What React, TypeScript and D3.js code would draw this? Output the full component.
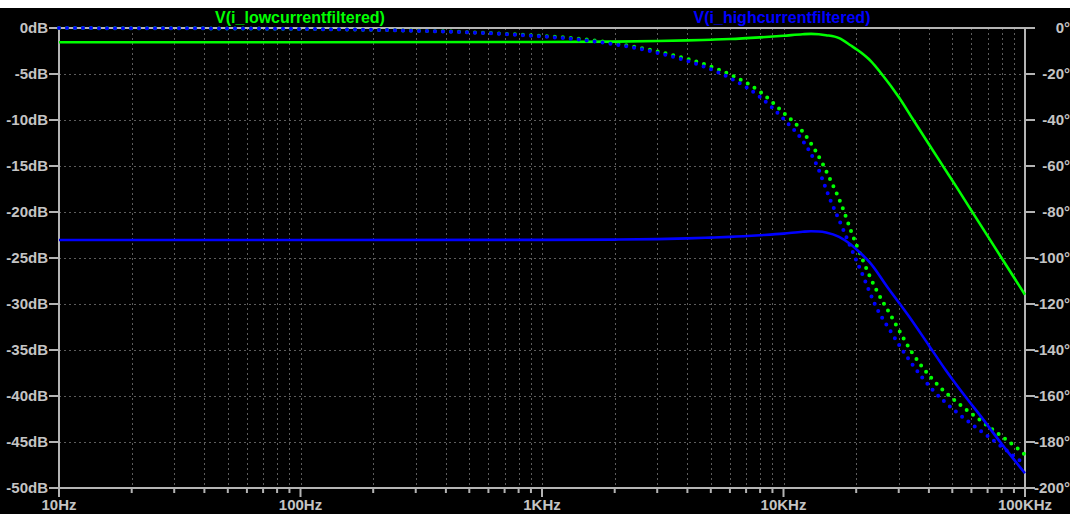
import React from "react";
import * as d3 from "d3";

// ---- data ----
const freqTicks = [10, 100, 1000, 10000, 100000];
const freqLabels = ["10Hz", "100Hz", "1KHz", "10KHz", "100KHz"];
const dbTicks = [0, -5, -10, -15, -20, -25, -30, -35, -40, -45, -50];
const degTicks = [0, -20, -40, -60, -80, -100, -120, -140, -160, -180, -200];

const lowFreq = [10, 100, 1000, 2000, 3000, 4000, 5000, 6000, 8000, 10000, 12000, 13000, 14000, 15000, 17000, 19000, 21000, 23000, 25500, 30000, 34400, 39700, 45200, 52100, 63100, 80000, 100000];
const lowMag = [-1.55, -1.55, -1.52, -1.48, -1.42, -1.35, -1.27, -1.2, -1.02, -0.85, -0.68, -0.64, -0.68, -0.78, -1.1, -1.9, -2.7, -3.6, -5.0, -7.5, -9.95, -12.5, -14.8, -17.3, -20.75, -25, -29];

const highFreq = [10, 100, 1000, 2000, 3000, 4000, 5000, 6000, 8000, 10000, 12000, 13000, 14000, 15000, 17000, 18700, 20500, 22800, 27000, 33000, 40000, 47000, 56000, 66000, 80000, 100000];
const highMag = [-23.05, -23.05, -23.03, -23.0, -22.95, -22.87, -22.78, -22.7, -22.52, -22.35, -22.15, -22.1, -22.12, -22.22, -22.7, -23.4, -24.3, -25.5, -28.2, -31.3, -34.5, -37.2, -39.9, -42.3, -45.2, -48.4];

const phaseFreq = [10, 30, 100, 200, 400, 670, 1000, 1200, 2000, 3000, 4800, 6200, 8000, 10000, 12000, 13500, 15800, 17400, 19000, 21300, 24000, 28000, 34000, 41600, 52000, 65200, 80000, 93600, 100000];
const lowPhase = [-0.04, -0.12, -0.4, -0.8, -1.5, -2.4, -3.5, -4.0, -6.7, -10.2, -16.1, -20.9, -27.7, -36.8, -45, -53, -67, -77, -88, -101, -113, -125.5, -141, -153, -162.5, -170.5, -177.5, -183, -185.5];
const highPhase = [-0.04, -0.12, -0.4, -0.8, -1.6, -2.5, -3.7, -4.3, -7.1, -10.8, -17.2, -22.5, -30, -39.5, -49, -58, -76, -86, -95.5, -107.5, -120.5, -132.5, -146, -157.5, -167, -175, -182, -187.5, -189.5];

const W = 1070;
const H = 514;
const left = 59;
const right = 1025;
const top = 28;
const bottom = 488;

const axisColor = "#b4b4b4";
const labelColor = "#c4c4c4";
const gridColor = "#5c5c5c";
const font = "'Liberation Sans', Arial, sans-serif";

export default function App() {
  const x = d3.scaleLog().domain([10, 100000]).range([left, right]);
  const yDb = d3.scaleLinear().domain([-50, 0]).range([bottom, top]);
  const yDeg = d3.scaleLinear().domain([-200, 0]).range([bottom, top]);

  // minor decade positions 2..9
  const minor: number[] = [];
  for (let dec = 10; dec < 100000; dec *= 10) {
    for (let m = 2; m <= 9; m++) minor.push(dec * m);
  }

  const magLine = (fs: number[], vs: number[]) =>
    d3.line<number>().x((d, i) => x(fs[i])).y((d) => yDb(d)).curve(d3.curveMonotoneX)(vs) || "";
  const phLine = (fs: number[], vs: number[]) =>
    d3.line<number>().x((d, i) => x(fs[i])).y((d) => yDeg(d)).curve(d3.curveMonotoneX)(vs) || "";

  return (
    <svg
      width={W}
      height={H - 8}
      viewBox={`0 8 ${W} ${H - 8}`}
      style={{ position: "absolute", left: 0, top: 8, display: "block", background: "#000" }}
    >
      <rect x={0} y={8} width={W} height={H - 8} fill="#000" />

      {/* grid */}
      <g stroke={gridColor} strokeWidth={1} strokeDasharray="2,3">
        {minor.concat([100, 1000, 10000]).map((f) => (
          <line key={"v" + f} x1={Math.round(x(f)) + 0.5} x2={Math.round(x(f)) + 0.5} y1={top} y2={bottom} />
        ))}
        {dbTicks.slice(1, -1).map((d) => (
          <line key={"h" + d} x1={left} x2={right} y1={Math.round(yDb(d)) + 0.5} y2={Math.round(yDb(d)) + 0.5} />
        ))}
      </g>

      {/* frame and ticks */}
      <g stroke={axisColor} strokeWidth={2} fill="none">
        <rect x={left} y={top} width={right - left} height={bottom - top} />
        {dbTicks.map((d) => (
          <line key={"ld" + d} x1={left - 10} x2={left} y1={yDb(d)} y2={yDb(d)} />
        ))}
        {degTicks.map((d) => (
          <line key={"rd" + d} x1={right} x2={right + 10} y1={yDeg(d)} y2={yDeg(d)} />
        ))}
        {minor.map((f) => (
          <line key={"bm" + f} x1={x(f)} x2={x(f)} y1={bottom} y2={bottom + 5} />
        ))}
        {freqTicks.map((f) => (
          <line key={"bM" + f} x1={x(f)} x2={x(f)} y1={bottom} y2={bottom + 9} />
        ))}
      </g>

      {/* tick labels */}
      <g fill={labelColor} fontFamily={font} fontWeight="bold" fontSize={15}>
        {dbTicks.map((d) => (
          <text key={"tl" + d} x={48} y={yDb(d) + 5} textAnchor="end">
            {d + "dB"}
          </text>
        ))}
        {degTicks.map((d) => (
          <text key={"tr" + d} x={1070} y={yDeg(d) + 5} textAnchor="end">
            {d + "°"}
          </text>
        ))}
        {freqTicks.map((f, i) => (
          <text key={"tb" + f} x={x(f)} y={510} textAnchor="middle">
            {freqLabels[i]}
          </text>
        ))}
      </g>

      {/* legend */}
      <g fontFamily={font} fontWeight="bold" fontSize={16} textAnchor="middle">
        <text x={300} y={22.5} fill="#00ff00">V(i_lowcurrentfiltered)</text>
        <text x={782} y={22.5} fill="#0000ff">V(i_highcurrentfiltered)</text>
      </g>

      {/* traces */}
      <g fill="none">
        <path d={magLine(lowFreq, lowMag)} stroke="#00ff00" strokeWidth={2.6} />
        <path d={phLine(phaseFreq, lowPhase)} stroke="#00ff00" strokeWidth={4} strokeDasharray="0 8" strokeLinecap="round" />
        <path d={magLine(highFreq, highMag)} stroke="#0000ff" strokeWidth={2.6} />
        <path d={phLine(phaseFreq, highPhase)} stroke="#0000ff" strokeWidth={4} strokeDasharray="0 8" strokeLinecap="round" />
      </g>
    </svg>
  );
}
